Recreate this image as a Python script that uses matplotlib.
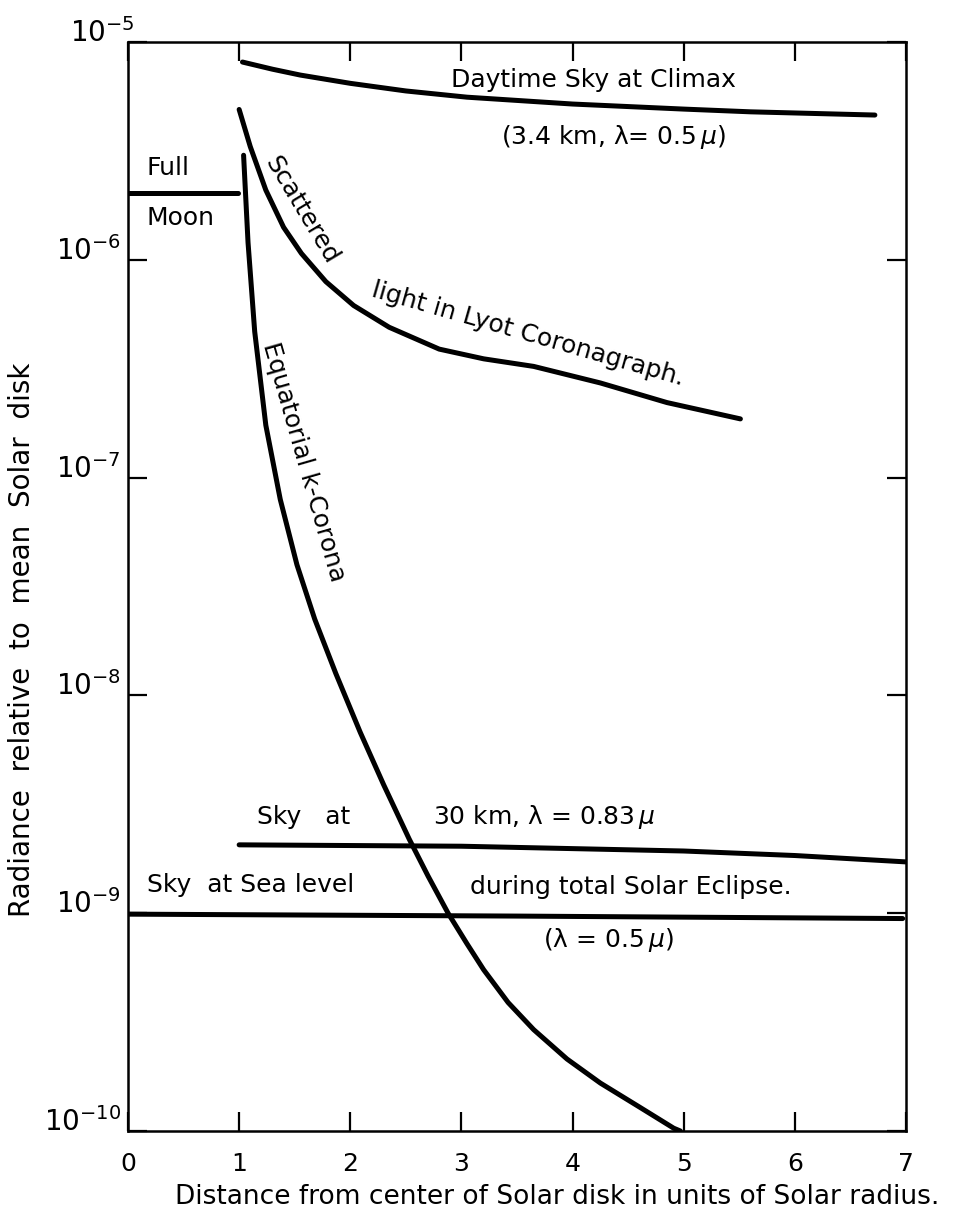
import numpy as np
import matplotlib
matplotlib.use("Agg")
import matplotlib.pyplot as plt
from matplotlib.transforms import ScaledTranslation

# values (x in solar radii, y relative radiance)
moon_x = [0.0, 0.99]
moon_y = [2.03e-6, 2.03e-6]

climax_x = [1.03, 1.3, 1.55, 2.0, 2.5, 3.05, 4.0, 5.0, 5.6, 6.72]
climax_y = [8.09e-6, 7.50e-6, 7.05e-6, 6.46e-6, 5.96e-6, 5.58e-6, 5.19e-6,
            4.92e-6, 4.78e-6, 4.62e-6]

scat_x = [1.0, 1.1, 1.24, 1.40, 1.56, 1.78, 2.03, 2.35, 2.8, 3.2, 3.65,
          4.25, 4.85, 5.51]
scat_y = [4.90e-6, 3.31e-6, 2.09e-6, 1.41e-6, 1.07e-6, 7.94e-7, 6.17e-7,
          4.90e-7, 3.89e-7, 3.51e-7, 3.24e-7, 2.72e-7, 2.21e-7, 1.86e-7]

corona_x = [1.04, 1.08, 1.14, 1.24, 1.37, 1.52, 1.68, 1.87, 2.09, 2.30,
            2.53, 2.70, 2.88, 3.05, 3.2, 3.42, 3.65, 3.95, 4.25, 4.6,
            4.91, 4.97]
corona_y = [3.02e-6, 1.20e-6, 4.68e-7, 1.74e-7, 7.94e-8, 3.98e-8, 2.24e-8,
            1.26e-8, 6.76e-9, 3.89e-9, 2.19e-9, 1.48e-9, 1.00e-9, 7.24e-10,
            5.50e-10, 3.89e-10, 2.92e-10, 2.14e-10, 1.66e-10, 1.29e-10,
            1.03e-10, 1.0e-10]

sky30_x = [1.0, 3.0, 5.0, 6.0, 7.0]
sky30_y = [2.06e-9, 2.03e-9, 1.93e-9, 1.84e-9, 1.72e-9]

sea_x = [0.0, 3.5, 6.97]
sea_y = [9.9e-10, 9.7e-10, 9.45e-10]

x_ticks = [0, 1, 2, 3, 4, 5, 6, 7]
y_ticks = [1e-10, 1e-9, 1e-8, 1e-7, 1e-6, 1e-5]
y_labels = [r"$\mathregular{10^{-%d}}$" % k for k in (10, 9, 8, 7, 6, 5)]

fig = plt.figure(figsize=(9.58, 12.18), dpi=100)
ax = fig.add_axes([128 / 958, 87 / 1218, 778 / 958, 1089 / 1218])

lw = 3.6
for xs, ys in [(moon_x, moon_y), (climax_x, climax_y), (scat_x, scat_y),
               (corona_x, corona_y), (sky30_x, sky30_y), (sea_x, sea_y)]:
    ax.plot(xs, ys, color="black", lw=lw, solid_capstyle="round",
            solid_joinstyle="round")

ax.set_yscale("log")
ax.set_xlim(0, 7)
ax.set_ylim(1e-10, 1e-5)
ax.minorticks_off()
ax.set_xticks(x_ticks)
ax.set_xticklabels([str(v) for v in x_ticks], fontsize=18)
ax.set_yticks(y_ticks)
ax.set_yticklabels(y_labels, fontsize=20)
ax.tick_params(direction="in", length=14, width=1.6, top=True, right=True)
ax.tick_params(axis="x", pad=15)
ax.tick_params(axis="y", pad=5)
for s in ax.spines.values():
    s.set_linewidth(1.8)

# in the original the exponent labels rest on their tick marks
for lab in ax.get_yticklabels():
    lab.set_va("baseline")
top_lab = ax.get_yticklabels()[-1]
top_lab.set_transform(top_lab.get_transform() + ScaledTranslation(10 / 72, 0, fig.dpi_scale_trans))

fs = 18
ax.text(4.19, 10**-5.174, "Daytime Sky at Climax", fontsize=fs, ha="center", va="center")
ax.text(4.37, 10**-5.436, "(3.4 km, λ= 0.5$\\,\\mu$)", fontsize=fs, ha="center", va="center")
ax.text(0.17, 10**-5.579, "Full", fontsize=fs, ha="left", va="center")
ax.text(0.17, 10**-5.808, "Moon", fontsize=fs, ha="left", va="center")
ax.text(1.56, 10**-5.77, "Scattered", fontsize=fs, ha="center", va="center", rotation=-59)
ax.text(3.6, 10**-6.34, "light in Lyot Coronagraph.", fontsize=fs, ha="center", va="center",
        rotation=-16)
ax.text(1.58, 10**-6.93, "Equatorial k-Corona", fontsize=fs, ha="center", va="center",
        rotation=-74)
ax.text(1.58, 10**-8.558, "Sky   at", fontsize=fs, ha="center", va="center")
ax.text(3.74, 10**-8.558, "30 km, λ = 0.83$\\,\\mu$", fontsize=fs, ha="center", va="center")
ax.text(0.17, 10**-8.87, "Sky  at Sea level", fontsize=fs, ha="left", va="center")
ax.text(3.08, 10**-8.88, "during total Solar Eclipse.", fontsize=fs, ha="left", va="center")
ax.text(4.32, 10**-9.123, "(λ = 0.5$\\,\\mu$)", fontsize=fs, ha="center", va="center")

fig.text(557 / 958, 1 - 1197 / 1218, "Distance from center of Solar disk in units of Solar radius.",
         fontsize=19, ha="center", va="center")
fig.text(22 / 958, 1 - 640 / 1218, "Radiance  relative  to  mean  Solar  disk",
         fontsize=20, ha="center", va="center", rotation=90)

fig.savefig("out.png", dpi=100)
